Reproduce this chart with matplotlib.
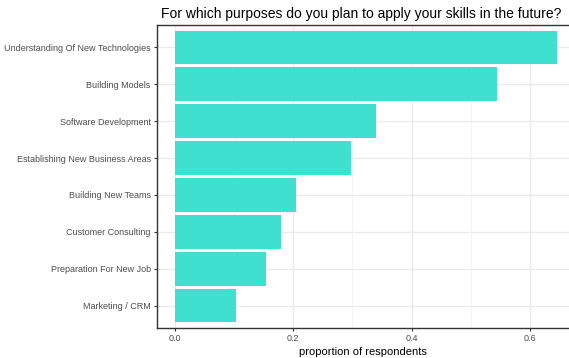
import matplotlib
matplotlib.use('Agg')
import matplotlib.pyplot as plt
import numpy as np

plt.rcParams['font.family'] = ['Liberation Sans', 'DejaVu Sans']

# top to bottom as shown
purposes = ['Understanding Of New Technologies', 'Building Models',
            'Software Development', 'Establishing New Business Areas',
            'Building New Teams', 'Customer Consulting',
            'Preparation For New Job', 'Marketing / CRM']
proportion = [0.645, 0.544, 0.339, 0.297, 0.2045, 0.179, 0.153, 0.103]
xticks = [0.0, 0.2, 0.4, 0.6]
xminor = [0.1, 0.3, 0.5]

fig = plt.figure(figsize=(5.69, 3.58), dpi=100)
ax = fig.add_axes([157 / 569, 1 - 328 / 358, 1 - 157 / 569, (328 - 25) / 358])

pos = np.arange(len(purposes))[::-1]
ax.barh(pos, proportion, height=0.9, color='#40E0D0', zorder=2)

ax.set_xlim(-0.0304, 0.666)
ax.set_ylim(-0.6, len(purposes) - 0.4)
ax.set_yticks(pos)
ax.set_yticklabels(purposes)
ax.set_xticks(xticks)
ax.set_xticklabels(['0.0', '0.2', '0.4', '0.6'])
ax.set_xticks(xminor, minor=True)

ax.grid(True, which='major', color='#EBEBEB', lw=1.0, zorder=0)
ax.grid(True, which='minor', axis='x', color='#F2F2F2', lw=0.6, zorder=0)
ax.set_axisbelow(True)

for s in ['left', 'bottom', 'top']:
    ax.spines[s].set_color('#333333')
    ax.spines[s].set_linewidth(1.0)
ax.spines['right'].set_visible(False)

ax.tick_params(axis='both', which='major', length=2.5, width=0.8,
               color='#333333', labelsize=6.5, labelcolor='#4D4D4D', pad=2)
ax.tick_params(axis='x', which='minor', length=0)

ax.set_xlabel('proportion of respondents', fontsize=8, color='black', labelpad=3)
ax.set_title('For which purposes do you plan to apply your skills in the future?',
             loc='left', fontsize=10, color='black', pad=5, x=0.01)

fig.savefig('out.png', dpi=100)
